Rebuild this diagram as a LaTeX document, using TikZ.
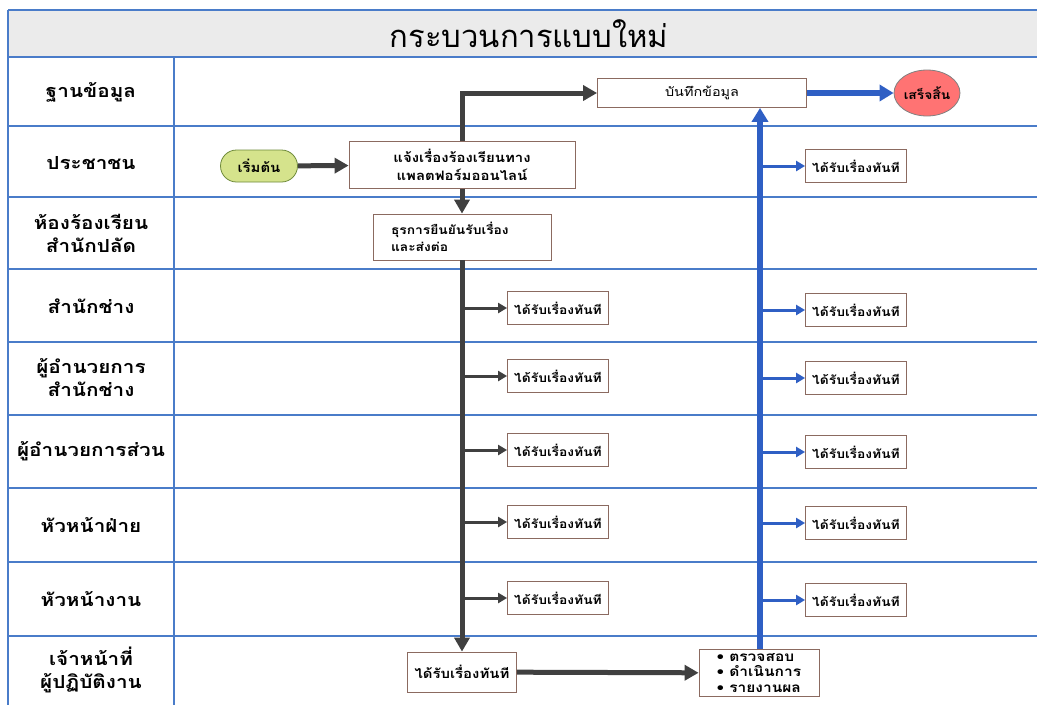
\documentclass[tikz,border=0pt]{standalone}
\usepackage{fontspec}
\newfontfamily\thai[Script=Thai]{Loma}
\newfontfamily\thaiw[Script=Thai,FakeStretch=1.15]{Loma}
\usetikzlibrary{arrows.meta,shapes.geometric}
\definecolor{gridblue}{HTML}{4A7CC9}
\definecolor{flowblue}{HTML}{2F5FC4}
\definecolor{dark}{HTML}{404040}
\definecolor{boxedge}{HTML}{8B6A60}
\definecolor{titlegray}{HTML}{EBEBEB}
\definecolor{startgreen}{HTML}{D5E38C}
\definecolor{startedge}{HTML}{6E8A3A}
\definecolor{endred}{HTML}{FF7373}
\tikzset{
  grid/.style={gridblue,line width=1.8pt},
  lane/.style={font=\thaiw\bfseries\fontsize{18}{23}\selectfont,align=center},
  box/.style={draw=boxedge,line width=0.8pt,fill=white,font=\thaiw\fontsize{12.5}{14}\selectfont,inner sep=2pt},
  blk/.style={dark,line width=5pt,-{Triangle[length=14pt,width=15pt]}},
  blkthin/.style={dark,line width=3pt,-{Triangle[length=9pt,width=10pt]}},
  blu/.style={flowblue,line width=5.5pt,-{Triangle[length=14pt,width=16pt]}},
  bluthin/.style={flowblue,line width=3pt,-{Triangle[length=9pt,width=10pt]}},
}
\begin{document}
\begin{tikzpicture}[x=1pt,y=-1pt]
\useasboundingbox (0,0) rectangle (1037,705);
% title band
\fill[titlegray] (8,10) rectangle (1037,57);
\node[font=\thai\fontsize{31}{34}\selectfont] (title) at (529,34) {กระบวนการแบบใหม่};
% grid
\draw[grid] (8,10) -- (1037,10);
\foreach \y in {57,126,197,269,342,415,488,562,636} \draw[grid] (8,\y) -- (1037,\y);
\draw[grid] (8,10) -- (8,705);
\draw[grid] (174,57) -- (174,705);
% lane labels
\node[lane] (l1) at (91,92) {ฐานข้อมูล};
\node[lane] (l2) at (91,163) {ประชาชน};
\node[lane] (l3) at (91,233) {ห้องร้องเรียน\\สำนักปลัด};
\node[lane] (l4) at (91,306) {สำนักช่าง};
\node[lane] (l5) at (91,378) {ผู้อำนวยการ\\สำนักช่าง};
\node[lane] (l6) at (91,451) {ผู้อำนวยการส่วน};
\node[lane] (l7) at (91,525) {หัวหน้าฝ่าย};
\node[lane] (l8) at (91,599) {หัวหน้างาน};
\node[lane] (l9) at (91,670) {เจ้าหน้าที่\\ผู้ปฏิบัติงาน};
% nodes
\node[box,minimum width=209pt,minimum height=29pt] (record) at (702,93) {บันทึกข้อมูล};
\node[ellipse,draw=gray,fill=endred,line width=0.8pt,minimum width=66pt,minimum height=46pt,inner sep=0pt,font=\thaiw\bfseries\fontsize{12}{14}\selectfont] (done) at (927,93) {เสร็จสิ้น};
\node[rounded corners=16pt,draw=startedge,fill=startgreen,line width=0.8pt,minimum width=77pt,minimum height=32pt,font=\thaiw\bfseries\fontsize{13}{15}\selectfont] (start) at (259,166) {เริ่มต้น};
\node[box,minimum width=226pt,minimum height=47pt,align=center,font=\thaiw\bfseries\fontsize{13}{18}\selectfont] (notify) at (462,165) {แจ้งเรื่องร้องเรียนทาง\\แพลตฟอร์มออนไลน์};
\node[box,minimum width=178pt,minimum height=46pt,align=left,text width=142pt,font=\thaiw\bfseries\fontsize{12}{17}\selectfont] (admin) at (462,237) {ธุรการยืนยันรับเรื่อง\\และส่งต่อ};
\tikzset{recv/.style={box,minimum width=101pt,minimum height=33pt,inner sep=1pt,font=\thaiw\bfseries\fontsize{12}{14}\selectfont}}
\node[recv] (a4) at (558,308) {ได้รับเรื่องทันที};
\node[recv] (a5) at (558,376) {ได้รับเรื่องทันที};
\node[recv] (a6) at (558,450) {ได้รับเรื่องทันที};
\node[recv] (a7) at (558,522) {ได้รับเรื่องทันที};
\node[recv] (a8) at (558,598) {ได้รับเรื่องทันที};
\node[recv] (b2) at (856,166) {ได้รับเรื่องทันที};
\node[recv] (b4) at (856,310) {ได้รับเรื่องทันที};
\node[recv] (b5) at (856,378) {ได้รับเรื่องทันที};
\node[recv] (b6) at (856,452) {ได้รับเรื่องทันที};
\node[recv] (b7) at (856,523) {ได้รับเรื่องทันที};
\node[recv] (b8) at (856,600) {ได้รับเรื่องทันที};
\node[recv,minimum width=109pt,minimum height=40pt,font=\thaiw\bfseries\fontsize{13}{15}\selectfont] (recv9) at (462,672) {ได้รับเรื่องทันที};
\node[box,minimum width=120pt,minimum height=47pt,align=left,inner sep=0pt,font=\thaiw\bfseries\fontsize{13.5}{15.5}\selectfont] (tasks) at (759,673) {\textbullet\ ตรวจสอบ\\\textbullet\ ดำเนินการ\\\textbullet\ รายงานผล};
% black flow
\draw[blk] (start) -- (notify);
\draw[blk] (notify.north) |- (record.west);
\draw[blk] (notify.south) -- (admin.north);
\draw[blk] (admin.south) -- (recv9.north);
\foreach \n in {a4,a5,a6,a7,a8} \draw[blkthin] (admin.south |- \n.west) -- (\n.west);
\draw[blk] (recv9) -- (tasks);
% blue flow
\coordinate (vx) at (760,0);
\draw[blu] (vx |- tasks.north) -- (vx |- record.south);
\foreach \n in {b2,b4,b5,b6,b7,b8} \draw[bluthin] (vx |- \n.west) -- (\n.west);
\draw[blu] (record) -- (done);
\end{tikzpicture}
\end{document}
